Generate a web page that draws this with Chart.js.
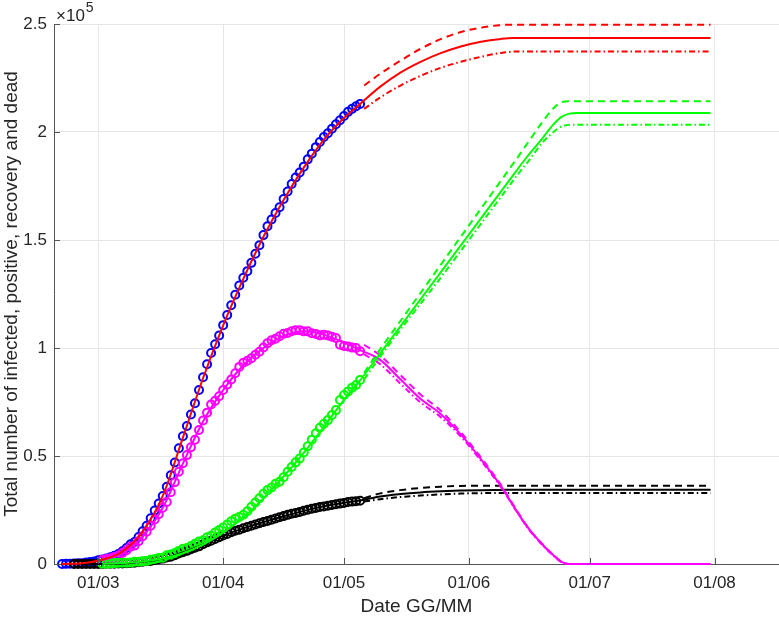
<!DOCTYPE html>
<html>
<head>
<meta charset="utf-8">
<script src="https://cdn.jsdelivr.net/npm/chart.js@4.4.1/dist/chart.umd.min.js"></script>
<style>
  html, body { margin: 0; padding: 0; background: #fff; }
  #wrap { width: 779px; height: 618px; }
</style>
</head>
<body>
<div id="wrap"><canvas id="myChart" width="779" height="618"></canvas></div>
<script>
"use strict";

// observed data (Italy 2020), one value per day from the start date
const totalStart = "2020-02-21";
const totalCases = [20, 62, 155, 229, 322, 400, 650, 888, 1128,
  1694, 2036, 2502, 3089, 3858, 4636, 5883, 7375, 9172, 10149, 12462, 15113, 17660, 21157, 24747, 27980,
  31506, 35713, 41035, 47021, 53578, 59138, 63927, 69176, 74386, 80539, 86498, 92472, 97689, 101739, 105792,
  110574, 115242, 119827, 124632, 128948, 132547, 135586, 139422, 143626, 147577, 152271, 156363, 159516,
  162488, 165155, 168941, 172434, 175925, 178972, 181228, 183957, 187327, 189973, 192994, 195351, 197675,
  199414, 201505, 203591, 205463, 207428, 209328, 210717, 211938, 213013];

const deadStart = "2020-02-24";
const deadCases = [7, 10, 12, 17, 21, 29,
  34, 52, 79, 107, 148, 197, 233, 366, 463, 631, 827, 1016, 1266, 1441, 1809, 2158, 2503, 2978, 3405, 4032,
  4825, 5476, 6077, 6820, 7503, 8165, 9134, 10023, 10779, 11591, 12428,
  13155, 13915, 14681, 15362, 15887, 16523, 17127, 17669, 18279, 18849, 19468, 19899, 20465, 21067, 21645,
  22170, 22745, 23227, 23660, 24114, 24648, 25085, 25549, 25969, 26384, 26644, 26977, 27359, 27682, 27967,
  28236, 28710, 28884, 29079, 29315];

const positiveStart = "2020-03-02";
const positiveCases = [1835, 2263, 2706, 3296, 3916, 5061, 6387, 7985, 8514, 10590, 12839, 14955, 17750,
  20603, 23073, 26062, 28710, 33190, 37860, 42681, 46638, 50418, 54030, 57521, 62013, 66414, 70065, 73880,
  75528, 77635,
  80572, 83049, 85388, 88274, 91246, 93187, 94067, 95262, 96877, 98273, 100269, 102253, 103616, 104291,
  105418, 106607, 106962, 107771, 108257, 108237, 107709, 107699, 106848, 106527, 105847, 106103, 105813,
  105205, 104657, 101551,
  100943, 100704, 100179, 99980, 98467];

const recoveredStart = "2020-03-02";
const recoveredCases = [149, 160, 276, 414, 523, 589, 622, 724, 1004, 1045, 1258, 1439, 1966, 2335, 2749,
  2941, 4025, 4440, 5129, 6072, 7024, 7432, 8326, 9362, 10361, 10950, 12384, 13030, 14620, 15729,
  16847, 18278, 19758, 20996, 21815, 22837, 24392, 26491, 28470, 30455, 32534, 34211, 35435, 37130, 38092,
  40164, 42727, 44927, 47055, 48877, 51600, 54543, 57576, 60498, 63120, 64928, 66624, 68941, 71252, 75945,
  78249, 79914, 81654, 82879, 85231];

// model fit
const fitDates = ["2020-02-21", "2020-02-26", "2020-03-02", "2020-03-07", "2020-03-12", "2020-03-17",
  "2020-03-22", "2020-03-27", "2020-04-01", "2020-04-06", "2020-04-11", "2020-04-16", "2020-04-21",
  "2020-04-26", "2020-05-01", "2020-05-05", "2020-05-10", "2020-05-15", "2020-05-20", "2020-05-25",
  "2020-05-30", "2020-06-04", "2020-06-09", "2020-06-12", "2020-06-15", "2020-06-19", "2020-06-22",
  "2020-06-24", "2020-06-26", "2020-06-28", "2020-07-10", "2020-07-31"];
const fitTotal = [0, 400, 2000, 5800, 15000, 31500, 58500, 86000, 110500, 132000, 151500, 168500, 183500,
  196500, 206500, 213000, 221000, 227500, 232500, 236500, 239600, 241800, 243100, 243500, 243500, 243500,
  243500, 243500, 243500, 243500, 243500, 243500];
const fitRecovered = [null, null, 100, 450, 1100, 2500, 5000, 9000, 14500, 21500, 30500, 40500, 51500,
  63500, 76000, 85000, 97500, 110000, 122500, 135000, 147500, 160000, 172500, 180000, 187500, 196500,
  203500, 207000, 208500, 208800, 208800, 208800];
const fitPositive = [null, null, 1800, 5000, 12700, 26000, 46500, 66000, 80500, 92000, 100000, 105500,
  107800, 106200, 102500, 99000, 94500, 85500, 76500, 69500, 60000, 48500, 36000, 27000, 18500, 9500,
  4000, 1000, 0, 0, 0, 0];
const fitDead = [null, 12, 50, 230, 1000, 2500, 5400, 9000, 13100, 16500, 19400, 22100, 24600, 26700,
  28300, 29400, 31300, 32400, 33150, 33650, 34000, 34200, 34300, 34350, 34350, 34350, 34350, 34350,
  34350, 34350, 34350, 34350];

// forecast bounds
const boundDates = ["2020-05-06", "2020-05-10", "2020-05-15", "2020-05-20", "2020-05-25", "2020-05-30",
  "2020-06-04", "2020-06-09", "2020-06-13", "2020-06-16", "2020-06-19", "2020-06-22", "2020-06-24",
  "2020-06-26", "2020-06-28", "2020-07-10", "2020-07-31"];
const totalHigh = [221500, 227000, 233000, 238500, 243000, 246300, 248300, 249500, 249700, 249700,
  249700, 249700, 249700, 249700, 249700, 249700, 249700];
const totalLow = [210700, 216000, 221500, 226000, 229700, 232500, 234800, 236600, 237300, 237300,
  237300, 237300, 237300, 237300, 237300, 237300, 237300];
const recoveredHigh = [88500, 99500, 112500, 125500, 138500, 151500, 164500, 177500, 188000, 196000,
  204000, 211000, 213800, 214200, 214200, 214200, 214200];
const recoveredLow = [85500, 96000, 108500, 120500, 132500, 145000, 157500, 170000, 180000, 187000,
  194500, 200000, 202500, 203300, 203400, 203400, 203400];
const positiveHigh = [101500, 96500, 87500, 78500, 71000, 61000, 49300, 36500, 24500, 16000, 9700,
  4200, 1100, 0, 0, 0, 0];
const positiveLow = [97000, 92500, 83500, 74800, 68000, 59000, 47800, 35500, 24000, 15700, 9300,
  3800, 900, 0, 0, 0, 0];
const deadHigh = [30500, 32700, 34200, 35200, 35800, 36150, 36250, 36250, 36250, 36250, 36250, 36250,
  36250, 36250, 36250, 36250, 36250];
const deadLow = [28900, 30000, 31000, 31700, 32200, 32600, 32800, 32900, 32900, 32900, 32900, 32900,
  32900, 32900, 32900, 32900, 32900];

// axes
const xFirst = "2020-02-19";
const xLast = "2020-08-17";
const xTickDates = ["2020-03-01", "2020-04-01", "2020-05-01", "2020-06-01", "2020-07-01", "2020-08-01"];
const xTickLabels = ["01/03", "01/04", "01/05", "01/06", "01/07", "01/08"];
const yTicks = [0, 50000, 100000, 150000, 200000, 250000];
const yTickLabels = ["0", "0.5", "1", "1.5", "2", "2.5"];

const DAY = 86400000;
const ORIGIN = Date.UTC(2020, 2, 1);
function dayOf(s) {
  const [y, m, d] = s.split("-").map(Number);
  return (Date.UTC(y, m - 1, d) - ORIGIN) / DAY;
}

function obsPoints(start, values) {
  const d0 = dayOf(start);
  return values.map((v, i) => ({ x: d0 + i, y: v }));
}

function fitPoints(dates, values) {
  return dates.map((d, i) => ({ x: dayOf(d), y: values[i] })).filter((p) => p.y !== null);
}

function circles(color, pts) {
  return {
    data: pts,
    showLine: false,
    pointStyle: "circle",
    pointRadius: 4,
    borderWidth: 2,
    borderColor: color,
    backgroundColor: "rgba(0,0,0,0)",
    pointBorderWidth: 2,
    pointBorderColor: color,
    pointBackgroundColor: "rgba(0,0,0,0)",
    clip: false,
  };
}

const DASH = [7, 5];
const DASHDOT = [6, 3, 1.5, 3];

function curve(color, pts, dash) {
  return {
    data: pts,
    showLine: true,
    borderColor: color,
    borderWidth: 2,
    borderDash: dash || [],
    pointRadius: 0,
    cubicInterpolationMode: "monotone",
    clip: false,
  };
}

const RED = "#ff0000", GREEN = "#00ff00", MAGENTA = "#ff00ff", BLACK = "#000000", BLUE = "#0000ff";
const FONT = "'Liberation Sans', Arial, sans-serif";
const TEXT = "#262626";

const innerTicks = {
  id: "innerTicks",
  afterDraw(chart) {
    const ctx = chart.ctx;
    const x = chart.scales.x, y = chart.scales.y;
    const a = chart.chartArea;
    ctx.save();
    ctx.strokeStyle = "#555555";
    ctx.lineWidth = 1;
    ctx.beginPath();
    xTickDates.forEach((d) => {
      const px = Math.round(x.getPixelForValue(dayOf(d))) + 0.5;
      ctx.moveTo(px, a.bottom);
      ctx.lineTo(px, a.bottom - 6);
    });
    yTicks.forEach((v) => {
      const py = Math.round(y.getPixelForValue(v)) + 0.5;
      ctx.moveTo(a.left, py);
      ctx.lineTo(a.left + 6, py);
    });
    ctx.stroke();
    // exponent label
    ctx.fillStyle = TEXT;
    ctx.textBaseline = "alphabetic";
    ctx.textAlign = "left";
    ctx.font = "17px " + FONT;
    ctx.fillText("\u00d710", a.left + 2, 21);
    const w = ctx.measureText("\u00d710").width;
    ctx.font = "14px " + FONT;
    ctx.fillText("5", a.left + 2 + w + 1, 12);
    ctx.restore();
  },
};

const ctx = document.getElementById("myChart").getContext("2d");
const myChart = new Chart(ctx, {
  type: "scatter",
  data: {
    datasets: [
      curve(RED, fitPoints(fitDates, fitTotal)),
      curve(RED, fitPoints(boundDates, totalHigh), DASH),
      curve(RED, fitPoints(boundDates, totalLow), DASHDOT),
      curve(GREEN, fitPoints(fitDates, fitRecovered)),
      curve(GREEN, fitPoints(boundDates, recoveredHigh), DASH),
      curve(GREEN, fitPoints(boundDates, recoveredLow), DASHDOT),
      curve(MAGENTA, fitPoints(fitDates, fitPositive)),
      curve(MAGENTA, fitPoints(boundDates, positiveHigh), DASH),
      curve(MAGENTA, fitPoints(boundDates, positiveLow), DASHDOT),
      curve(BLACK, fitPoints(fitDates, fitDead)),
      curve(BLACK, fitPoints(boundDates, deadHigh), DASH),
      curve(BLACK, fitPoints(boundDates, deadLow), DASHDOT),
      circles(GREEN, obsPoints(recoveredStart, recoveredCases)),
      circles(MAGENTA, obsPoints(positiveStart, positiveCases)),
      circles(BLACK, obsPoints(deadStart, deadCases)),
      circles(BLUE, obsPoints(totalStart, totalCases)),
    ],
  },
  options: {
    responsive: false,
    animation: false,
    devicePixelRatio: 1,
    events: [],
    layout: { autoPadding: false, padding: { top: 24, left: 0, right: 0, bottom: 0 } },
    plugins: { legend: { display: false }, tooltip: { enabled: false } },
    scales: {
      x: {
        type: "linear",
        min: dayOf(xFirst),
        max: dayOf(xLast),
        afterBuildTicks: (scale) => {
          scale.ticks = xTickDates.map((d) => ({ value: dayOf(d) }));
        },
        afterFit: (scale) => { scale.height = 54; },
        ticks: {
          autoSkip: false,
          maxRotation: 0,
          padding: 9,
          color: TEXT,
          font: { family: FONT, size: 17 },
          callback: (v) => {
            const i = xTickDates.findIndex((d) => dayOf(d) === v);
            return i >= 0 ? xTickLabels[i] : "";
          },
        },
        grid: { color: "#e6e6e6", drawTicks: false },
        border: { color: "#555555", width: 1 },
        title: {
          display: true,
          text: "Date GG/MM",
          color: TEXT,
          font: { family: FONT, size: 19 },
          padding: 0,
        },
      },
      y: {
        min: 0,
        max: 250000,
        afterBuildTicks: (scale) => {
          scale.ticks = yTicks.map((v) => ({ value: v }));
        },
        afterFit: (scale) => { scale.width = 54; },
        ticks: {
          padding: 7,
          color: TEXT,
          font: { family: FONT, size: 17 },
          callback: (v) => {
            const i = yTicks.indexOf(v);
            return i >= 0 ? yTickLabels[i] : "";
          },
        },
        grid: { color: "#e6e6e6", drawTicks: false },
        border: { color: "#555555", width: 1 },
        title: {
          display: true,
          text: "Total number of infected, positive, recovery and dead",
          color: TEXT,
          font: { family: FONT, size: 19 },
          padding: 0,
        },
      },
    },
  },
  plugins: [innerTicks],
});
</script>
</body>
</html>
